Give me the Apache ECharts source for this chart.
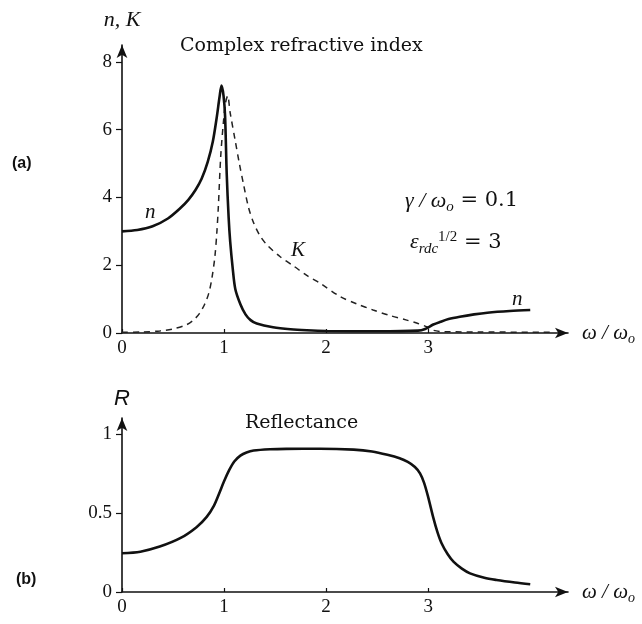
<!DOCTYPE html>
<html>
<head>
<meta charset="utf-8">
<script src="https://cdn.jsdelivr.net/npm/echarts@6/dist/echarts.min.js"></script>
<style>html,body{margin:0;padding:0;background:#fff}#c{width:642px;height:624px}</style>
</head>
<body>
<div id="c"></div>
<script>
// ---- data ----
const nOmega = [0,0.15,0.3,0.45,0.57,0.65,0.72,0.78,0.84,0.89,0.93,0.955,0.975,0.995,1.01,1.026,1.045,1.06,1.085,1.11,1.16,1.21,1.26,1.32,1.48,1.65,1.81,2.0,2.5,2.9,2.97,3.05,3.12,3.2,3.31,3.45,3.58,3.8,4.0];
const nValues = [3.0,3.04,3.15,3.38,3.68,3.93,4.22,4.55,5.05,5.65,6.4,6.95,7.3,7.0,6.4,4.7,3.4,2.7,1.9,1.3,0.85,0.55,0.38,0.28,0.17,0.11,0.08,0.06,0.05,0.07,0.12,0.25,0.33,0.41,0.48,0.55,0.6,0.65,0.68];
const kOmega = [0,0.2,0.37,0.5,0.63,0.7,0.76,0.81,0.85,0.88,0.91,0.93,0.944,0.967,0.993,1.015,1.035,1.06,1.108,1.15,1.19,1.24,1.29,1.35,1.42,1.55,1.68,1.81,1.95,2.14,2.3,2.46,2.62,2.79,2.9,2.99,3.05,3.15,3.5,4.2];
const kValues = [0.02,0.03,0.06,0.12,0.24,0.38,0.58,0.85,1.17,1.6,2.25,3.0,3.73,5.2,6.2,6.8,7.0,6.5,5.7,5.0,4.4,3.7,3.25,2.88,2.6,2.25,1.98,1.7,1.45,1.07,0.86,0.68,0.52,0.38,0.28,0.18,0.08,0.04,0.03,0.02];
const rOmega = [0,0.18,0.37,0.57,0.73,0.83,0.9,0.95,1.0,1.05,1.1,1.16,1.22,1.29,1.45,1.61,1.94,2.27,2.45,2.6,2.72,2.8,2.87,2.92,2.96,3.0,3.05,3.09,3.13,3.19,3.25,3.33,3.41,3.55,3.67,3.85,4.0];
const rValues = [0.245,0.255,0.287,0.34,0.41,0.475,0.545,0.62,0.7,0.77,0.825,0.862,0.882,0.894,0.902,0.905,0.906,0.9,0.888,0.867,0.845,0.822,0.79,0.75,0.69,0.6,0.47,0.38,0.31,0.24,0.19,0.148,0.118,0.09,0.076,0.06,0.049];
const xTicks = [0,1,2,3];
const topYTicks = [0,2,4,6,8];
const botYTicks = [0,0.5,1];

const pair = (xs, ys) => xs.map((x, i) => [x, ys[i]]);
const serif = 'Liberation Serif';
const ink = '#111';

const chart = echarts.init(document.getElementById('c'));
const omegaName = {
  name: '{i|ω / ω}{s|o}',
  nameLocation: 'end',
  nameGap: 14,
  nameTextStyle: {
    rich: {
      i: {fontFamily: serif, fontStyle: 'italic', fontSize: 21, color: ink},
      s: {fontFamily: serif, fontStyle: 'italic', fontSize: 14, color: ink, padding: [12, 0, 0, 0]}
    }
  }
};
function xAxisFor(gridIndex) {
  return Object.assign({
    type: 'value', gridIndex, min: 0, max: 4.37,
    axisLine: {show: true, symbol: ['none', 'arrow'], symbolSize: [8, 13], lineStyle: {color: ink, width: 1.6}},
    axisTick: {show: true, inside: true, length: 4, customValues: xTicks, lineStyle: {color: ink, width: 1.2}},
    axisLabel: {customValues: xTicks, margin: 6, fontFamily: serif, fontSize: 19, color: ink},
    splitLine: {show: false}
  }, omegaName);
}
function yAxisFor(gridIndex, max, ticks, name, nameStyle, gap) {
  return {
    type: 'value', gridIndex, min: 0, max,
    name, nameLocation: 'end', nameGap: gap, nameTextStyle: nameStyle,
    axisLine: {show: true, symbol: ['none', 'arrow'], symbolSize: [8, 13], lineStyle: {color: ink, width: 1.6}},
    axisTick: {show: true, inside: false, length: 6, customValues: ticks, lineStyle: {color: ink, width: 1.2}},
    axisLabel: {customValues: ticks, margin: 10, fontFamily: serif, fontSize: 19, color: ink},
    splitLine: {show: false}
  };
}

const option = {
  backgroundColor: '#fff',
  animation: false,
  grid: [
    {left: 122, right: 74, top: 45, height: 288},
    {left: 122, right: 74, top: 418, height: 174}
  ],
  xAxis: [xAxisFor(0), xAxisFor(1)],
  yAxis: [
    yAxisFor(0, 8.5, topYTicks, 'n, K', {fontFamily: serif, fontStyle: 'italic', fontSize: 22, color: ink, align: 'center'}, 14),
    yAxisFor(1, 1.1, botYTicks, 'R', {fontFamily: 'Liberation Sans', fontStyle: 'italic', fontSize: 22, color: ink, align: 'center'}, 8)
  ],
  series: [
    {type: 'line', name: 'n', xAxisIndex: 0, yAxisIndex: 0, data: pair(nOmega, nValues), showSymbol: false, smooth: 0.3, lineStyle: {color: ink, width: 2.6}, z: 3},
    {type: 'line', name: 'K', xAxisIndex: 0, yAxisIndex: 0, data: pair(kOmega, kValues), showSymbol: false, smooth: 0.3, lineStyle: {color: '#222', width: 1.5, type: [6, 5]}, z: 2},
    {type: 'line', name: 'R', xAxisIndex: 1, yAxisIndex: 1, data: pair(rOmega, rValues), showSymbol: false, smooth: 0.3, lineStyle: {color: ink, width: 2.6}, z: 3}
  ],
  graphic: [
    {type: 'text', left: 180, top: 37, style: {text: 'Complex refractive index', font: '19px "DejaVu Serif"', fill: ink}},
    {type: 'text', left: 245, top: 414, style: {text: 'Reflectance', font: '19px "DejaVu Serif"', fill: ink}},
    {type: 'text', left: 12, top: 156, style: {text: '(a)', font: 'bold 16px "Liberation Sans"', fill: ink}},
    {type: 'text', left: 16, top: 572, style: {text: '(b)', font: 'bold 16px "Liberation Sans"', fill: ink}},
    {type: 'text', left: 145, top: 202, style: {text: 'n', font: 'italic 21px "Liberation Serif"', fill: ink}},
    {type: 'text', left: 512, top: 289, style: {text: 'n', font: 'italic 21px "Liberation Serif"', fill: ink}},
    {type: 'text', left: 291, top: 240, style: {text: 'K', font: 'italic 21px "Liberation Serif"', fill: ink}},
    {type: 'text', left: 405, top: 190, style: {
      text: '{i|γ / ω}{s|o}{n| = 0.1}',
      rich: {
        i: {font: 'italic 22px "Liberation Serif"', fill: ink},
        s: {font: 'italic 15px "Liberation Serif"', fill: ink, padding: [12, 0, 0, 0]},
        n: {font: '21px "DejaVu Serif"', fill: ink}
      }
    }},
    {type: 'text', left: 410, top: 230, style: {
      text: '{i|ε}{s|rdc}{p|1/2}{n| = 3}',
      rich: {
        i: {font: 'italic 22px "Liberation Serif"', fill: ink},
        s: {font: 'italic 15px "Liberation Serif"', fill: ink, padding: [14, 0, 0, 0]},
        p: {font: '15px "Liberation Serif"', fill: ink, padding: [0, 0, 10, 0]},
        n: {font: '21px "DejaVu Serif"', fill: ink}
      }
    }}
  ]
};
chart.setOption(option);
</script>
</body>
</html>
